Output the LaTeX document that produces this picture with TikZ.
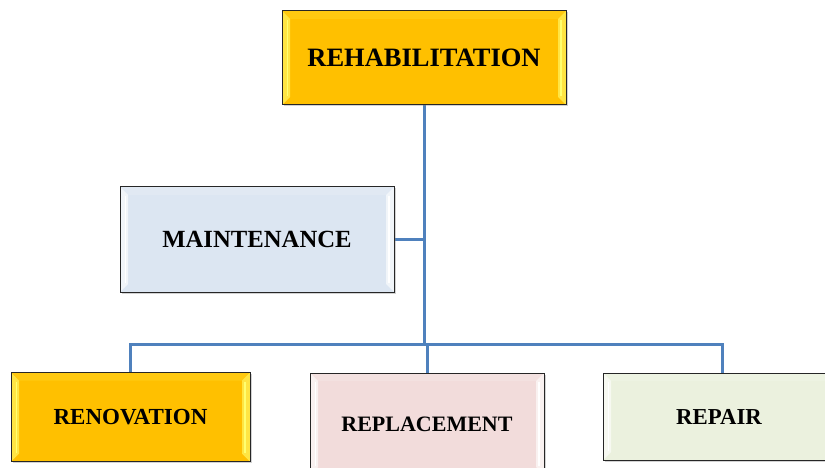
\documentclass[tikz,border=0pt]{standalone}
\usepackage{fontspec}
\setmainfont{Liberation Serif}
\usetikzlibrary{shadows,backgrounds}

\definecolor{gold}{HTML}{FFC000}
\definecolor{goldhl}{HTML}{FFFF70}
\definecolor{paleblue}{HTML}{DCE6F2}
\definecolor{palepink}{HTML}{F2DCDB}
\definecolor{palegreen}{HTML}{EBF1DE}
\definecolor{linkblue}{HTML}{4F81BD}

\tikzset{
  x=1pt, y=-1pt,
  % bevelled box: light strips along the left and right edges
  bevel/.style={
    path picture={
      \fill[#1, opacity=0.6]
        (path picture bounding box.north west)
        -- ([xshift=8pt,yshift=-8pt]path picture bounding box.north west)
        -- ([xshift=8pt,yshift=8pt]path picture bounding box.south west)
        -- (path picture bounding box.south west) -- cycle;
      \fill[#1, opacity=0.6]
        (path picture bounding box.north east)
        -- ([xshift=-8pt,yshift=-8pt]path picture bounding box.north east)
        -- ([xshift=-8pt,yshift=8pt]path picture bounding box.south east)
        -- (path picture bounding box.south east) -- cycle;
      \fill[#1, opacity=0.15]
        (path picture bounding box.north west)
        -- ([xshift=8pt,yshift=-8pt]path picture bounding box.north west)
        -- ([xshift=-8pt,yshift=-8pt]path picture bounding box.north east)
        -- (path picture bounding box.north east) -- cycle;
      \fill[#1, opacity=1]
        ([xshift=4.5pt,yshift=-9pt]path picture bounding box.north west)
        rectangle ([xshift=6pt,yshift=9pt]path picture bounding box.south west);
      \fill[#1, opacity=1]
        ([xshift=-4.5pt,yshift=-9pt]path picture bounding box.north east)
        rectangle ([xshift=-6pt,yshift=9pt]path picture bounding box.south east);
    }},
  card/.style={draw=black!85, line width=1pt, inner sep=0pt,
    font=\bfseries,
    drop shadow={shadow xshift=1.5pt, shadow yshift=-1.5pt, opacity=0.35}},
  goldcard/.style={card, fill=gold, bevel=goldhl},
  bluecard/.style={card, fill=paleblue, bevel=white},
  pinkcard/.style={card, fill=palepink, bevel=white},
  greencard/.style={card, fill=palegreen, bevel=white},
  conn/.style={draw=linkblue, line width=3pt}
}

\begin{document}
\begin{tikzpicture}
\useasboundingbox (0,0) rectangle (825,468);

\node[goldcard, minimum width=284pt, minimum height=94pt, font=\fontsize{26.5}{30}\bfseries]
  (rehab) at (424,58) {REHABILITATION};
\node[bluecard, minimum width=274pt, minimum height=105pt, font=\fontsize{24.7}{28}\bfseries]
  (maint) at (257,239.5) {MAINTENANCE};
\node[goldcard, minimum width=239pt, minimum height=89pt, font=\fontsize{23}{26}\bfseries]
  (renov) at (130.5,417) {RENOVATION};
\node[pinkcard, minimum width=234pt, minimum height=102pt, font=\fontsize{22}{26}\bfseries]
  (replace) at (427,424) {REPLACEMENT};
\node[greencard, minimum width=232pt, minimum height=87pt, font=\fontsize{22.8}{26}\bfseries]
  (repair) at (719,416.5) {REPAIR};

\coordinate (busL) at (130.5,344);
\coordinate (busR) at (722,344);

\begin{scope}[on background layer]
  \fill[white] (0,0) rectangle (825,468);
  \draw[conn] (rehab.south) -- (rehab.south |- busL);
  \draw[conn] (maint.east) -- (maint.east -| rehab.south);
  \draw[conn] (renov.north) -- (busL) -- (busR) -- (busR |- repair.north);
  \draw[conn] (replace.north) -- (replace.north |- busL);
\end{scope}
\end{tikzpicture}
\end{document}
